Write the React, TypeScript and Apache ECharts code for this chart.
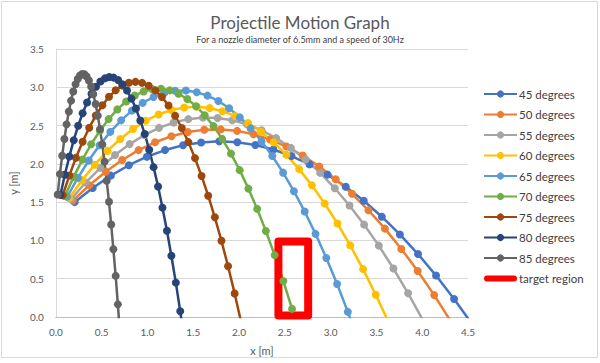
import React, { useEffect, useRef } from "react";
import * as echarts from "echarts";

const title = "Projectile Motion Graph";
const subtitle = "For a nozzle diameter of 6.5mm and a speed of 30Hz";
const seriesNames = ["45 degrees", "50 degrees", "55 degrees", "60 degrees", "65 degrees", "70 degrees", "75 degrees", "80 degrees", "85 degrees", "target region"];
const seriesColors = ["#4472C4", "#ED7D31", "#A5A5A5", "#FFC000", "#5B9BD5", "#70AD47", "#9E480E", "#264478", "#636363", "#FF0000"];

const deg45 = [[0.205,1.500],[0.402,1.685],[0.600,1.846],[0.797,1.982],[0.994,2.093],[1.192,2.180],[1.389,2.242],[1.586,2.280],[1.783,2.294],[1.981,2.282],[2.178,2.247],[2.375,2.187],[2.573,2.102],[2.770,1.993],[2.967,1.859],[3.165,1.700],[3.362,1.518],[3.559,1.310],[3.756,1.078],[3.954,0.822],[4.151,0.541],[4.348,0.236],[4.546,-0.095]];
const deg50 = [[0.186,1.520],[0.365,1.721],[0.545,1.898],[0.724,2.051],[0.903,2.179],[1.083,2.282],[1.262,2.361],[1.441,2.415],[1.620,2.445],[1.800,2.450],[1.979,2.431],[2.158,2.387],[2.338,2.319],[2.517,2.226],[2.696,2.108],[2.876,1.966],[3.055,1.800],[3.234,1.609],[3.413,1.394],[3.593,1.154],[3.772,0.889],[3.951,0.600],[4.131,0.286],[4.310,-0.052]];
const deg55 = [[0.166,1.540],[0.326,1.756],[0.486,1.948],[0.646,2.115],[0.806,2.258],[0.966,2.376],[1.126,2.470],[1.286,2.539],[1.446,2.584],[1.606,2.604],[1.766,2.599],[1.926,2.570],[2.086,2.517],[2.246,2.439],[2.406,2.336],[2.566,2.209],[2.726,2.058],[2.886,1.882],[3.046,1.681],[3.206,1.456],[3.366,1.206],[3.526,0.932],[3.686,0.633],[3.846,0.310],[4.006,-0.038]];
const deg60 = [[0.145,1.555],[0.285,1.784],[0.424,1.989],[0.564,2.169],[0.703,2.325],[0.843,2.456],[0.982,2.563],[1.122,2.645],[1.261,2.703],[1.401,2.736],[1.540,2.745],[1.680,2.729],[1.819,2.688],[1.959,2.623],[2.098,2.534],[2.238,2.420],[2.377,2.281],[2.517,2.118],[2.656,1.931],[2.796,1.719],[2.935,1.482],[3.075,1.221],[3.214,0.935],[3.354,0.625],[3.493,0.290],[3.633,-0.069]];
const deg65 = [[0.123,1.570],[0.241,1.819],[0.359,2.043],[0.477,2.243],[0.595,2.418],[0.713,2.568],[0.830,2.695],[0.948,2.796],[1.066,2.873],[1.184,2.926],[1.302,2.954],[1.420,2.957],[1.538,2.936],[1.656,2.891],[1.774,2.821],[1.892,2.726],[2.009,2.607],[2.127,2.463],[2.245,2.295],[2.363,2.102],[2.481,1.885],[2.599,1.643],[2.717,1.377],[2.835,1.086],[2.953,0.771],[3.071,0.431],[3.188,0.067],[3.306,-0.322]];
const deg70 = [[0.099,1.580],[0.194,1.830],[0.290,2.055],[0.385,2.256],[0.481,2.432],[0.576,2.584],[0.671,2.711],[0.767,2.814],[0.862,2.892],[0.958,2.946],[1.053,2.975],[1.148,2.980],[1.244,2.960],[1.339,2.916],[1.435,2.847],[1.530,2.753],[1.625,2.635],[1.721,2.493],[1.816,2.326],[1.912,2.134],[2.007,1.918],[2.102,1.677],[2.198,1.412],[2.293,1.123],[2.389,0.808],[2.484,0.470],[2.579,0.106],[2.675,-0.281]];
const deg75 = [[0.075,1.590],[0.147,1.847],[0.219,2.080],[0.292,2.288],[0.364,2.472],[0.436,2.631],[0.508,2.766],[0.580,2.876],[0.653,2.961],[0.725,3.022],[0.797,3.059],[0.869,3.071],[0.941,3.058],[1.014,3.021],[1.086,2.960],[1.158,2.873],[1.230,2.763],[1.302,2.628],[1.375,2.468],[1.447,2.284],[1.519,2.075],[1.591,1.842],[1.663,1.584],[1.736,1.302],[1.808,0.995],[1.880,0.663],[1.952,0.308],[2.024,-0.073]];
const deg80 = [[0.050,1.595],[0.098,1.857],[0.147,2.095],[0.195,2.309],[0.244,2.498],[0.292,2.662],[0.341,2.802],[0.389,2.917],[0.438,3.008],[0.486,3.075],[0.535,3.116],[0.583,3.134],[0.631,3.126],[0.680,3.094],[0.728,3.038],[0.777,2.957],[0.825,2.852],[0.874,2.722],[0.922,2.567],[0.971,2.389],[1.019,2.185],[1.067,1.957],[1.116,1.704],[1.164,1.428],[1.213,1.126],[1.261,0.800],[1.310,0.449],[1.358,0.074],[1.407,-0.326]];
const deg85 = [[0.020,1.600],[0.044,1.866],[0.069,2.107],[0.093,2.324],[0.117,2.516],[0.142,2.683],[0.166,2.826],[0.190,2.945],[0.215,3.039],[0.239,3.108],[0.263,3.153],[0.288,3.174],[0.312,3.170],[0.336,3.141],[0.361,3.088],[0.385,3.010],[0.409,2.908],[0.434,2.781],[0.458,2.630],[0.482,2.454],[0.507,2.254],[0.531,2.029],[0.555,1.780],[0.580,1.506],[0.604,1.208],[0.628,0.885],[0.653,0.537],[0.677,0.165],[0.701,-0.231]];
const targetRegion = [[2.43,0.02],[2.43,0.985],[2.755,0.985],[2.755,0.02],[2.43,0.02]];

const xTicks = { min: 0, max: 4.5, interval: 0.5 };
const yTicks = { min: 0, max: 3.5, interval: 0.5 };
const xName = "x [m]";
const yName = "y [m]";

const trajectories = [deg45, deg50, deg55, deg60, deg65, deg70, deg75, deg80, deg85];

export default function App() {
  const ref = useRef<HTMLDivElement>(null);
  useEffect(() => {
    if (!ref.current) return;
    const chart = echarts.init(ref.current, undefined, { renderer: "svg" });
    const font = "Lato";
    const series: any[] = trajectories.map((d, i) => ({
      name: seriesNames[i],
      type: "line",
      data: d,
      symbol: "circle",
      symbolSize: 8,
      showSymbol: true,
      color: seriesColors[i],
      lineStyle: { width: 2.5, color: seriesColors[i] },
      itemStyle: { color: seriesColors[i] },
      clip: true,
    }));
    series.push({
      name: seriesNames[9],
      type: "line",
      data: targetRegion,
      symbol: "none",
      color: seriesColors[9],
      lineStyle: { width: 8, color: seriesColors[9], join: "round", cap: "round" },
      itemStyle: { color: seriesColors[9] },
      clip: false,
    });
    const legendData: any[] = seriesNames.map((n, i) =>
      i === 9
        ? { name: n, icon: "path://M3,0 L30,0 A3,3 0 0 1 30,6 L3,6 A3,3 0 0 1 3,0 Z", itemStyle: { color: seriesColors[9] } }
        : { name: n }
    );
    chart.setOption({
      animation: false,
      textStyle: { fontFamily: font },
      title: {
        text: title,
        subtext: subtitle,
        left: "center",
        top: 9,
        itemGap: 4,
        textStyle: { fontFamily: font, fontSize: 17, fontWeight: "normal", color: "#595959" },
        subtextStyle: { fontFamily: font, fontSize: 9, color: "#404040" },
      },
      grid: { left: 49, right: 132, top: 49, bottom: 46, containLabel: false },
      xAxis: {
        type: "value",
        ...xTicks,
        name: xName,
        nameLocation: "middle",
        nameGap: 28,
        nameTextStyle: { fontFamily: font, fontSize: 11, color: "#595959" },
        axisLine: { show: true, lineStyle: { color: "#BFBFBF", width: 1 } },
        axisTick: { show: false },
        splitLine: { show: false },
        axisLabel: { fontFamily: font, fontSize: 10, color: "#595959", margin: 10, formatter: (v: number) => v.toFixed(1) },
      },
      yAxis: {
        type: "value",
        ...yTicks,
        name: yName,
        nameLocation: "middle",
        nameGap: 31,
        nameRotate: 90,
        nameTextStyle: { fontFamily: font, fontSize: 11, color: "#595959" },
        axisLine: { show: true, lineStyle: { color: "#D9D9D9", width: 1 } },
        axisTick: { show: false },
        splitLine: { show: true, lineStyle: { color: "#D9D9D9", width: 1 } },
        axisLabel: { fontFamily: font, fontSize: 10, color: "#595959", margin: 12, formatter: (v: number) => v.toFixed(1) },
      },
      legend: {
        orient: "vertical",
        left: 478,
        top: 83,
        itemWidth: 33,
        itemHeight: 9,
        itemGap: 8.5,
        data: legendData,
        textStyle: { fontFamily: font, fontSize: 11.5, color: "#404040", padding: [0, 0, 0, -3] },
      },
      graphic: [
        {
          type: "rect",
          shape: { x: 1.5, y: 1.5, width: 596, height: 356 },
          style: { fill: "none", stroke: "#D9D9D9", lineWidth: 1 },
          silent: true,
        },
      ],
      series,
    });
    return () => chart.dispose();
  }, []);
  return (
    <div
      ref={ref}
      style={{ position: "fixed", left: 0, top: 0, width: 600, height: 363, background: "#fff" }}
    />
  );
}
